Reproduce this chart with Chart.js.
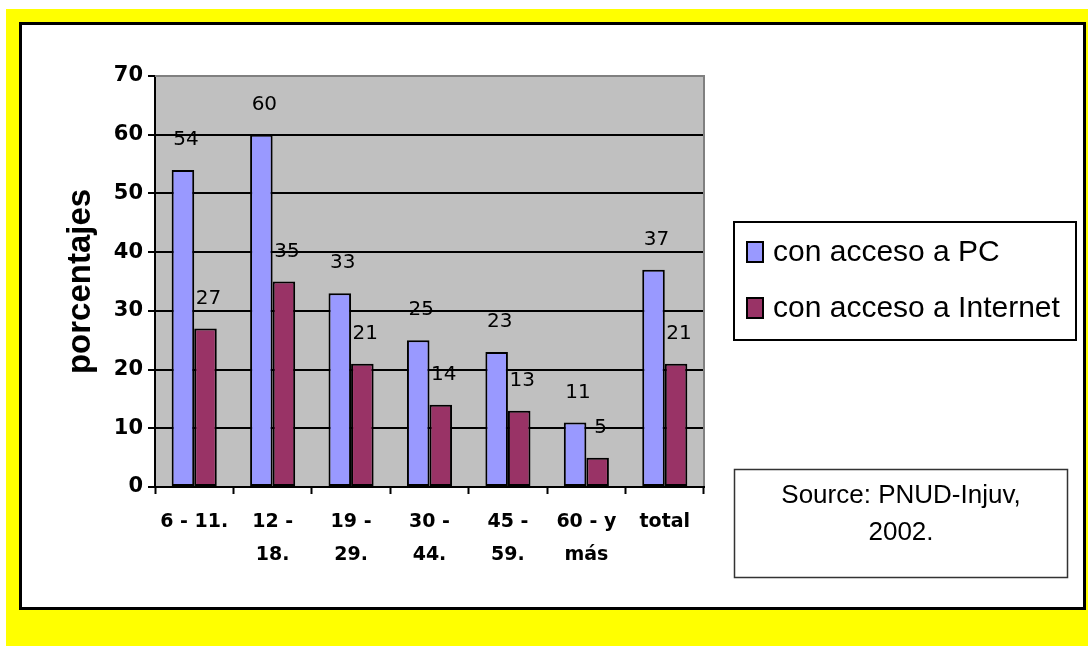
<!DOCTYPE html>
<html lang="es">
<head>
<meta charset="UTF-8">
<title>Acceso a PC e Internet por tramo de edad</title>
<script src="https://cdn.jsdelivr.net/npm/chart.js"></script>
<style>
    html, body { margin: 0; padding: 0; background: #fff; }
    #wrap { width: 1088px; height: 648px; }
</style>
</head>
<body>
<div id="wrap"><canvas id="accesoChart" width="1088" height="648"></canvas></div>
<script>
    // age groups on the x axis (multi-line labels)
    const ageGroups = [
        '6 - 11.',
        ['12 -', '18.'],
        ['19 -', '29.'],
        ['30 -', '44.'],
        ['45 -', '59.'],
        ['60 - y', 'más'],
        'total'
    ];
    const pcAccess = [54, 60, 33, 25, 23, 11, 37];
    const internetAccess = [27, 35, 21, 14, 13, 5, 21];
    const seriesNames = ['con acceso a PC', 'con acceso a Internet'];
    const seriesColors = ['#9999ff', '#993366'];
    const yMin = 0, yMax = 70, yStep = 10;
    const sourceLines = ['Source: PNUD-Injuv,', '2002.'];

    // yellow page, framed white panel, grey plot area
    const framePlugin = {
        id: 'frame',
        beforeDraw(chart) {
            const ctx = chart.ctx;
            const a = chart.chartArea;
            ctx.save();
            ctx.fillStyle = '#fff';
            ctx.fillRect(0, 0, chart.width, chart.height);
            ctx.fillStyle = '#ffff00';
            ctx.fillRect(6, 9, 1082, 637);
            ctx.fillStyle = '#fff';
            ctx.fillRect(20, 23, 1065, 586);
            ctx.lineWidth = 3;
            ctx.strokeStyle = '#000';
            ctx.strokeRect(20.5, 23.5, 1064, 585);
            ctx.fillStyle = '#c0c0c0';
            ctx.fillRect(a.left, a.top, a.width, a.height);
            ctx.restore();
        },
        afterDraw(chart) {
            const ctx = chart.ctx;
            const a = chart.chartArea;
            ctx.save();
            // grey edge on top and right of the plot
            ctx.strokeStyle = '#808080';
            ctx.lineWidth = 2;
            ctx.beginPath();
            ctx.moveTo(a.left, a.top);
            ctx.lineTo(a.right, a.top);
            ctx.lineTo(a.right, a.bottom - 1);
            ctx.stroke();

            // legend box
            ctx.strokeStyle = '#000';
            ctx.lineWidth = 2;
            ctx.strokeRect(734, 222, 342, 118);
            ctx.font = '30px "Liberation Sans", Arial, sans-serif';
            ctx.textAlign = 'left';
            ctx.textBaseline = 'middle';
            chart.data.datasets.forEach((ds, i) => {
                const y = 252 + i * 56;
                ctx.fillStyle = ds.backgroundColor;
                ctx.fillRect(747, y - 10, 16, 20);
                ctx.strokeStyle = '#000';
                ctx.lineWidth = 2;
                ctx.strokeRect(747, y - 10, 16, 20);
                ctx.fillStyle = '#000';
                ctx.fillText(ds.label, 773, y + 1);
            });

            // source note
            ctx.strokeStyle = '#333';
            ctx.lineWidth = 1.5;
            ctx.strokeRect(734.5, 469.5, 333, 108);
            ctx.font = '26px "Liberation Sans", Arial, sans-serif';
            ctx.textAlign = 'center';
            ctx.fillStyle = '#000';
            sourceLines.forEach((line, i) => ctx.fillText(line, 901, 496 + i * 37));
            ctx.restore();
        }
    };

    // value labels floating above each bar
    const valueLabels = {
        id: 'valueLabels',
        afterDatasetsDraw(chart) {
            const ctx = chart.ctx;
            ctx.save();
            ctx.font = '20px "DejaVu Sans", sans-serif';
            ctx.fillStyle = '#000';
            ctx.textAlign = 'center';
            ctx.textBaseline = 'middle';
            chart.data.datasets.forEach((ds, i) => {
                chart.getDatasetMeta(i).data.forEach((bar, j) => {
                    ctx.fillText(String(ds.data[j]), bar.x + 3, bar.y - 30);
                });
            });
            ctx.restore();
        }
    };

    const ctx = document.getElementById('accesoChart').getContext('2d');
    new Chart(ctx, {
        type: 'bar',
        data: {
            labels: ageGroups,
            datasets: [
                { label: seriesNames[0], data: pcAccess, backgroundColor: seriesColors[0] },
                { label: seriesNames[1], data: internetAccess, backgroundColor: seriesColors[1] }
            ]
        },
        options: {
            responsive: false,
            animation: false,
            devicePixelRatio: 1,
            layout: { padding: { left: 61, top: 76, right: 384, bottom: 0 } },
            datasets: {
                bar: {
                    categoryPercentage: 0.575,
                    barPercentage: 1,
                    borderColor: '#000',
                    borderWidth: 2,
                    borderSkipped: false
                }
            },
            plugins: {
                legend: { display: false },
                tooltip: { enabled: false }
            },
            scales: {
                x: {
                    grid: {
                        offset: true,
                        drawOnChartArea: false,
                        tickLength: 7,
                        tickColor: '#000',
                        tickWidth: 2
                    },
                    border: { color: '#000', width: 2 },
                    ticks: {
                        color: '#000',
                        autoSkip: false,
                        maxRotation: 0,
                        padding: 11,
                        font: { family: '"DejaVu Sans", sans-serif', weight: 'bold', size: 19, lineHeight: 1.75 }
                    },
                    afterFit(scale) { scale.height = 161; }
                },
                y: {
                    min: yMin,
                    max: yMax,
                    ticks: {
                        stepSize: yStep,
                        color: '#000',
                        padding: 5,
                        font: { family: '"DejaVu Sans", sans-serif', weight: 'bold', size: 21 }
                    },
                    grid: {
                        color: c => (c.tick && c.tick.value === yMax ? '#808080' : '#000'),
                        lineWidth: 2,
                        tickLength: 7,
                        tickColor: '#000'
                    },
                    border: { color: '#000', width: 2 },
                    title: {
                        display: true,
                        text: 'porcentajes',
                        color: '#000',
                        padding: 0,
                        font: { family: '"Liberation Sans", Arial, sans-serif', weight: 'bold', size: 33 }
                    },
                    afterFit(scale) { scale.width = 94; }
                }
            }
        },
        plugins: [framePlugin, valueLabels]
    });
</script>
</body>
</html>
